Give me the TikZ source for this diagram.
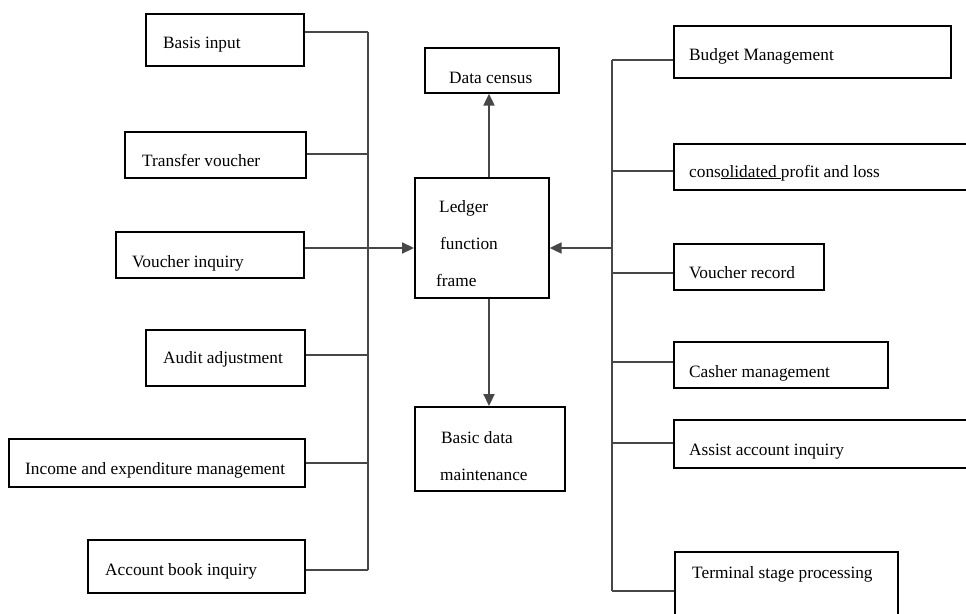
\documentclass[tikz,border=0pt]{standalone}
\usepackage{fontspec}
\setmainfont{Liberation Serif}
\usetikzlibrary{arrows.meta}
\begin{document}
\begin{tikzpicture}[x=1pt,y=-1pt,
  box/.style={draw=black,line width=1.7pt,inner sep=0pt,anchor=north west},
  txt/.style={anchor=base west,inner sep=0pt,font=\fontsize{17.3}{20}\selectfont},
  conn/.style={draw=black!72,line width=2.2pt},
  arr/.style={conn,-{Triangle[length=12pt,width=11pt]}}]
\useasboundingbox (0,0) rectangle (966,613);
% ---------- left boxes ----------
\node[box,minimum width=158pt,minimum height=52pt] (bi) at (145,13) {};
\node[txt] (bit) at (163,48) {Basis input};
\node[box,minimum width=181pt,minimum height=46pt] (tv) at (124,131) {};
\node[txt] (tvt) at (142,166) {Transfer voucher};
\node[box,minimum width=188pt,minimum height=46pt] (vi) at (115,231) {};
\node[txt] (vit) at (132,267) {Voucher inquiry};
\node[box,minimum width=159pt,minimum height=56pt] (aa) at (145,329) {};
\node[txt] (aat) at (163,363) {Audit adjustment};
\node[box,minimum width=296pt,minimum height=48pt] (ie) at (8,438) {};
\node[txt] (iet) at (25,474) {Income and expenditure management};
\node[box,minimum width=217pt,minimum height=53pt] (ab) at (87,539) {};
\node[txt] (abt) at (105,575) {Account book inquiry};
% ---------- centre ----------
\node[box,minimum width=134pt,minimum height=45pt] (dc) at (424,47) {};
\node[txt] (dct) at (449,83) {Data census};
\node[box,minimum width=134pt,minimum height=120pt] (lf) at (414,177) {};
\node[txt] (lft1) at (439,212) {Ledger};
\node[txt] (lft2) at (440,249) {function};
\node[txt] (lft3) at (436,286) {frame};
\node[box,minimum width=150pt,minimum height=84pt] (bd) at (414,406) {};
\node[txt] (bdt1) at (441,443) {Basic data};
\node[txt] (bdt2) at (440,480) {maintenance};
% ---------- right boxes ----------
\node[box,minimum width=277pt,minimum height=52pt] (bm) at (673,25) {};
\node[txt] (bmt) at (689,60) {Budget Management};
\node[box,minimum width=310pt,minimum height=46pt] (cp) at (673,143) {};
\node[txt] (cpt) at (689,177) {cons\textcolor{black}{\underline{olidated\ }}profit and loss};
\node[box,minimum width=150pt,minimum height=46pt] (vr) at (673,243) {};
\node[txt] (vrt) at (689,278) {Voucher record};
\node[box,minimum width=214pt,minimum height=46pt] (cm) at (673,341) {};
\node[txt] (cmt) at (689,377) {Casher management};
\node[box,minimum width=310pt,minimum height=48pt] (ai) at (673,419) {};
\node[txt] (ait) at (689,455) {Assist account inquiry};
\node[box,minimum width=223pt,minimum height=70pt] (ts) at (674,551) {};
\node[txt] (tst) at (692,578) {Terminal stage processing};
% ---------- left bus ----------
\coordinate (L1) at (368,32);
\coordinate (L2) at (368,154);
\coordinate (L3) at (368,248);
\coordinate (L4) at (368,355);
\coordinate (L5) at (368,463);
\coordinate (L6) at (368,570);
\draw[conn] (L1) -- (L6);
\draw[conn] (bi.east |- L1) -- (L1);
\draw[conn] (tv.east |- L2) -- (L2);
\draw[conn] (aa.east |- L4) -- (L4);
\draw[conn] (ie.east |- L5) -- (L5);
\draw[conn] (ab.east |- L6) -- (L6);
\draw[arr] (vi.east |- L3) -- (lf.west |- L3);
% ---------- right bus ----------
\coordinate (R1) at (612,60);
\coordinate (R2) at (612,171);
\coordinate (R3) at (612,248);
\coordinate (R4) at (612,273);
\coordinate (R5) at (612,362);
\coordinate (R6) at (612,443);
\coordinate (R7) at (612,591);
\draw[conn] (R1) -- (R7);
\draw[conn] (R1) -- (bm.west |- R1);
\draw[conn] (R2) -- (cp.west |- R2);
\draw[conn] (R4) -- (vr.west |- R4);
\draw[conn] (R5) -- (cm.west |- R5);
\draw[conn] (R6) -- (ai.west |- R6);
\draw[conn] (R7) -- (ts.west |- R7);
\draw[arr] (R3) -- (lf.east |- R3);
% ---------- vertical arrows ----------
\draw[arr] (lf.north -| 489,0) -- (dc.south -| 489,0);
\draw[arr] (lf.south -| 489,0) -- (bd.north -| 489,0);
\end{tikzpicture}
\end{document}
